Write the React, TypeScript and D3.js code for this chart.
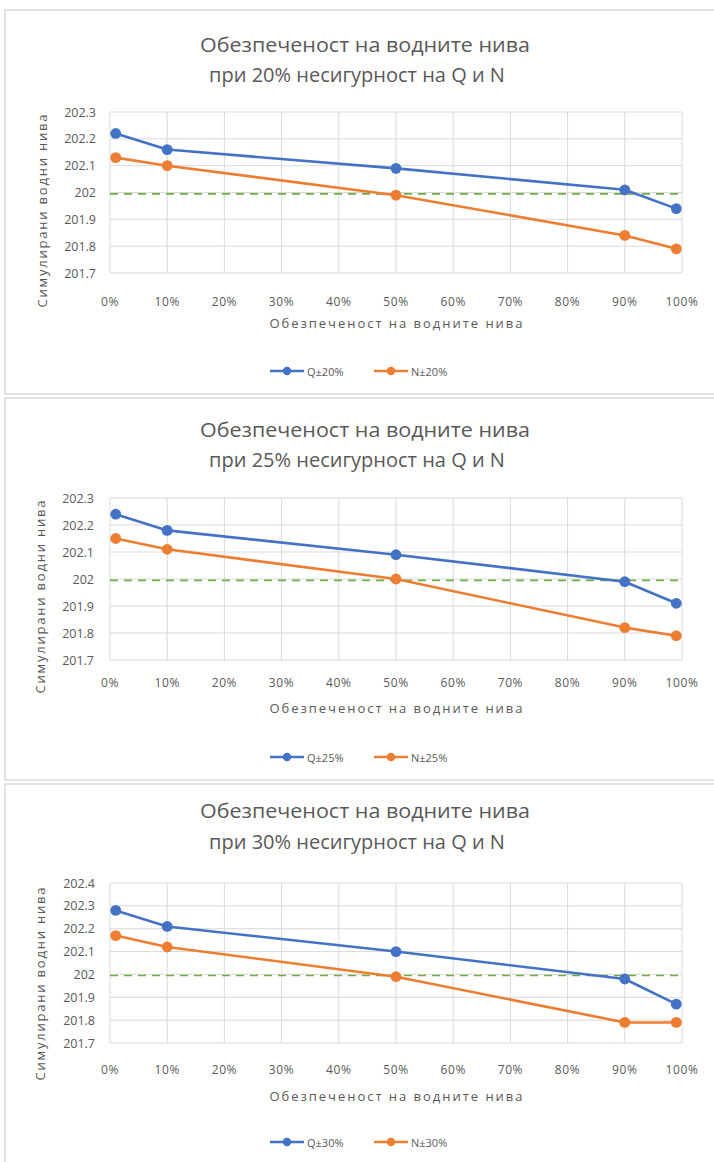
import React from "react";
import * as d3 from "d3";

// ---- data ----
const PROBABILITY = [0.01, 0.1, 0.5, 0.9, 0.99];
const UNCERTAINTY = ["20%", "25%", "30%"];
const Q_20 = [202.22, 202.16, 202.09, 202.01, 201.94];
const N_20 = [202.13, 202.1, 201.99, 201.84, 201.79];
const Q_25 = [202.24, 202.18, 202.09, 201.99, 201.91];
const N_25 = [202.15, 202.11, 202.0, 201.82, 201.79];
const Q_30 = [202.28, 202.21, 202.1, 201.98, 201.87];
const N_30 = [202.17, 202.12, 201.99, 201.79, 201.79];
const THRESHOLD = 201.995;
const X_TICKS = [0, 0.1, 0.2, 0.3, 0.4, 0.5, 0.6, 0.7, 0.8, 0.9, 1];
const Y_TICKS_A = [201.7, 201.8, 201.9, 202, 202.1, 202.2, 202.3];
const Y_TICKS_B = [201.7, 201.8, 201.9, 202, 202.1, 202.2, 202.3, 202.4];
const TITLE_LINE_1 = "Обезпеченост на водните нива";
const X_TITLE = "Обезпеченост на водните нива";
const Y_TITLE = "Симулирани водни нива";

const SERIES = [
  { q: Q_20, n: N_20, yTicks: Y_TICKS_A },
  { q: Q_25, n: N_25, yTicks: Y_TICKS_A },
  { q: Q_30, n: N_30, yTicks: Y_TICKS_B },
];

// ---- layout ----
const LAYOUT = [
  { bTop: 10, bBot: 394, top: 112, bottom: 273, t1: 44, t2: 74, xTick: 301, xTitle: 323, legend: 371, yTitleC: 211, yTitleX: 42, yTickX: 96 },
  { bTop: 398, bBot: 780, top: 498, bottom: 660, t1: 429, t2: 459, xTick: 682, xTitle: 708, legend: 757, yTitleC: 597, yTitleX: 40, yTickX: 94 },
  { bTop: 784, bBot: 1180, top: 883, bottom: 1043, t1: 810, t2: 841, xTick: 1069, xTitle: 1096, legend: 1142, yTitleC: 984, yTitleX: 40, yTickX: 95 },
];
const PLOT_LEFT = 110;
const PLOT_RIGHT = 682;
const BLUE = "#4472C4";
const ORANGE = "#ED7D31";
const GREEN = "#70AD47";
const GRID = "#D9D9D9";
const TEXT = "#595959";
const FONT = "'Open Sans', 'Noto Sans', sans-serif";

function Panel({ idx }: { idx: number }) {
  const L = LAYOUT[idx];
  const S = SERIES[idx];
  const unc = UNCERTAINTY[idx];
  const x = d3.scaleLinear().domain([0, 1]).range([PLOT_LEFT, PLOT_RIGHT]);
  const y = d3
    .scaleLinear()
    .domain([S.yTicks[0], S.yTicks[S.yTicks.length - 1]])
    .range([L.bottom, L.top]);
  const line = d3
    .line<number>()
    .x((_, i) => x(PROBABILITY[i]))
    .y((d) => y(d));
  const fmtY = (v: number) => String(+v.toFixed(1));
  const fmtX = d3.format(".0%");
  const legendItems = [
    { color: BLUE, label: `Q±${unc}`, x0: 270 },
    { color: ORANGE, label: `N±${unc}`, x0: 374 },
  ];
  return (
    <g>
      <rect x={5} y={L.bTop} width={720} height={L.bBot - L.bTop} fill="#fff" stroke={GRID} strokeWidth={1.5} />
      <text x={365} y={L.t1} textAnchor="middle" dominantBaseline="central" fontSize={20} fill={TEXT} fontFamily={FONT} textLength={330} lengthAdjust="spacingAndGlyphs">
        {TITLE_LINE_1}
      </text>
      <text x={357} y={L.t2} textAnchor="middle" dominantBaseline="central" fontSize={20} fill={TEXT} fontFamily={FONT}>
        {`при ${unc} несигурност на Q и N`}
      </text>
      {X_TICKS.map((t) => (
        <line key={"vx" + t} x1={x(t)} x2={x(t)} y1={L.top} y2={L.bottom} stroke={GRID} strokeWidth={1} />
      ))}
      {S.yTicks.map((t) => (
        <line key={"hy" + t} x1={PLOT_LEFT} x2={PLOT_RIGHT} y1={y(t)} y2={y(t)} stroke={GRID} strokeWidth={1} />
      ))}
      {S.yTicks.map((t) => (
        <text key={"ty" + t} x={L.yTickX} y={y(t)} textAnchor="end" dominantBaseline="central" fontSize={12.5} fill={TEXT} fontFamily={FONT}>
          {fmtY(t)}
        </text>
      ))}
      {X_TICKS.map((t) => (
        <text key={"tx" + t} x={x(t)} y={L.xTick} textAnchor="middle" dominantBaseline="central" fontSize={12} letterSpacing={0.6} fill={TEXT} fontFamily={FONT}>
          {fmtX(t)}
        </text>
      ))}
      <text x={396} y={L.xTitle} textAnchor="middle" dominantBaseline="central" fontSize={13} fill={TEXT} fontFamily={FONT} textLength={253} lengthAdjust="spacing">
        {X_TITLE}
      </text>
      <text
        transform={`translate(${L.yTitleX},${L.yTitleC}) rotate(-90)`}
        textAnchor="middle"
        dominantBaseline="central"
        fontSize={13}
        fill={TEXT}
        fontFamily={FONT}
        textLength={193}
        lengthAdjust="spacing"
      >
        {Y_TITLE}
      </text>
      <line x1={PLOT_LEFT} x2={PLOT_RIGHT} y1={y(THRESHOLD)} y2={y(THRESHOLD)} stroke={GREEN} strokeWidth={1.6} strokeDasharray="8 6" />
      <path d={line(S.q) || ""} fill="none" stroke={BLUE} strokeWidth={2.6} strokeLinejoin="round" />
      <path d={line(S.n) || ""} fill="none" stroke={ORANGE} strokeWidth={2.6} strokeLinejoin="round" />
      {S.q.map((v, i) => (
        <circle key={"q" + i} cx={x(PROBABILITY[i])} cy={y(v)} r={5.4} fill={BLUE} />
      ))}
      {S.n.map((v, i) => (
        <circle key={"n" + i} cx={x(PROBABILITY[i])} cy={y(v)} r={5.4} fill={ORANGE} />
      ))}
      {legendItems.map((it) => (
        <g key={it.label}>
          <line x1={it.x0} x2={it.x0 + 34} y1={L.legend} y2={L.legend} stroke={it.color} strokeWidth={2.6} />
          <circle cx={it.x0 + 17} cy={L.legend} r={4.2} fill={it.color} />
          <text x={it.x0 + 37} y={L.legend} dominantBaseline="central" fontSize={11} fill={TEXT} fontFamily={FONT}>
            {it.label}
          </text>
        </g>
      ))}
    </g>
  );
}

export default function App() {
  return (
    <svg
      width={714}
      height={1162}
      style={{ position: "absolute", left: 0, top: 0, background: "#fff" }}
    >
      <rect x={0} y={0} width={714} height={1162} fill="#fff" />
      {[0, 1, 2].map((i) => (
        <Panel key={i} idx={i} />
      ))}
    </svg>
  );
}
